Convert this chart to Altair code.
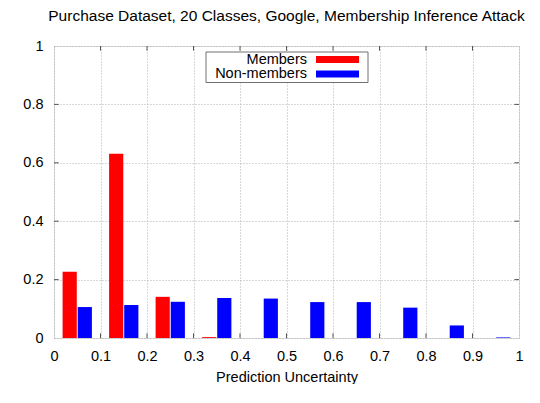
import altair as alt
import pandas as pd

# ---- data ----
bin_centers = [0.05, 0.15, 0.25, 0.35, 0.45, 0.55, 0.65, 0.75, 0.85, 0.95]
members = [0.227, 0.631, 0.141, 0.003, 0.0, 0.0, 0.0, 0.0, 0.0, 0.0]
non_members = [0.106, 0.113, 0.124, 0.137, 0.135, 0.123, 0.123, 0.104, 0.043, 0.002]
series_names = ["Members", "Non-members"]
series_colors = ["#ff0000", "#0000ff"]
x_ticks = [0, 0.1, 0.2, 0.3, 0.4, 0.5, 0.6, 0.7, 0.8, 0.9, 1]
y_ticks = [0, 0.2, 0.4, 0.6, 0.8, 1]

FONT = "Liberation Sans"
FS = 14.5
W, H = 465, 292
BAR_W = 0.0315
GAP = 0.001

rows = []
for c, m, n in zip(bin_centers, members, non_members):
    rows.append({"series": series_names[0], "x0": c - BAR_W, "x1": c - GAP, "v": m})
    rows.append({"series": series_names[1], "x0": c + GAP, "x1": c + BAR_W, "v": n})
bars_df = pd.DataFrame(rows)

xs = alt.Scale(domain=[0, 1], nice=False, zero=False)
ys = alt.Scale(domain=[0, 1], nice=False)

x_axis = alt.Axis(values=x_ticks, format="~g", grid=True, gridDash=[1, 2],
                  gridColor="#b0b0b0", tickSize=0, domain=False, labelFlush=False,
                  labelPadding=11, labelFont=FONT, labelFontSize=FS, labelColor="black",
                  title="Prediction Uncertainty", titleFont=FONT, titleFontSize=FS,
                  titleFontWeight="normal", titleColor="black", titlePadding=8)
y_axis = alt.Axis(values=y_ticks, format="~g", grid=True, gridDash=[1, 2],
                  gridColor="#b0b0b0", tickSize=0, domain=False, labelFlush=False,
                  labelPadding=11, labelFont=FONT, labelFontSize=FS, labelColor="black",
                  title=None)

bars = alt.Chart(bars_df).mark_rect().encode(
    x=alt.X("x0:Q", scale=xs, axis=x_axis),
    x2="x1:Q",
    y=alt.Y("v:Q", scale=ys, axis=y_axis),
    y2=alt.datum(0),
    color=alt.Color("series:N", scale=alt.Scale(domain=series_names, range=series_colors), legend=None),
)

# inward tick marks (gnuplot style, mirrored on all sides)
tick_rows = []
for t in x_ticks[1:-1]:
    tick_rows.append({"a": t, "b": t, "c": 0, "d": 0.016})
    tick_rows.append({"a": t, "b": t, "c": 1, "d": 0.984})
for t in y_ticks[1:-1]:
    tick_rows.append({"a": 0, "b": 0.01, "c": t, "d": t})
    tick_rows.append({"a": 1, "b": 0.99, "c": t, "d": t})
ticks = alt.Chart(pd.DataFrame(tick_rows)).mark_rule(color="#555555", strokeWidth=1).encode(
    x=alt.X("a:Q", scale=xs), x2="b:Q", y=alt.Y("c:Q", scale=ys), y2="d:Q"
)

# legend box (gnuplot style: label on the left, swatch on the right)
legend_layers = [
    alt.Chart(pd.DataFrame({"k": [0]})).mark_rect(fill="white", stroke="#707070", strokeWidth=1).encode(
        x=alt.value(152), x2=alt.value(314), y=alt.value(6), y2=alt.value(36.5)
    )
]
for i, (name, col) in enumerate(zip(series_names, series_colors)):
    yc = 13.5 + 14.5 * i
    legend_layers.append(
        alt.Chart(pd.DataFrame({"label": [name]})).mark_text(
            align="right", baseline="middle", font=FONT, fontSize=FS, color="black"
        ).encode(text="label:N", x=alt.value(253), y=alt.value(yc))
    )
    legend_layers.append(
        alt.Chart(pd.DataFrame({"label": [name]})).mark_rect(color=col).encode(
            x=alt.value(262), x2=alt.value(305), y=alt.value(yc - 3.5), y2=alt.value(yc + 3.5)
        )
    )

chart = alt.layer(bars, ticks, *legend_layers).properties(
    width=W, height=H,
    title=alt.TitleParams("Purchase Dataset, 20 Classes, Google, Membership Inference Attack",
                          font=FONT, fontSize=15.5, fontWeight="normal", color="black",
                          anchor="middle", offset=14),
    autosize=alt.AutoSizeParams(type="none"),
    padding={"left": 46, "top": 38, "right": 13, "bottom": 46},
).configure_view(stroke="black", strokeWidth=1).configure(background="white")

chart.save("out.html", embed_options={"renderer": "svg", "actions": False})
